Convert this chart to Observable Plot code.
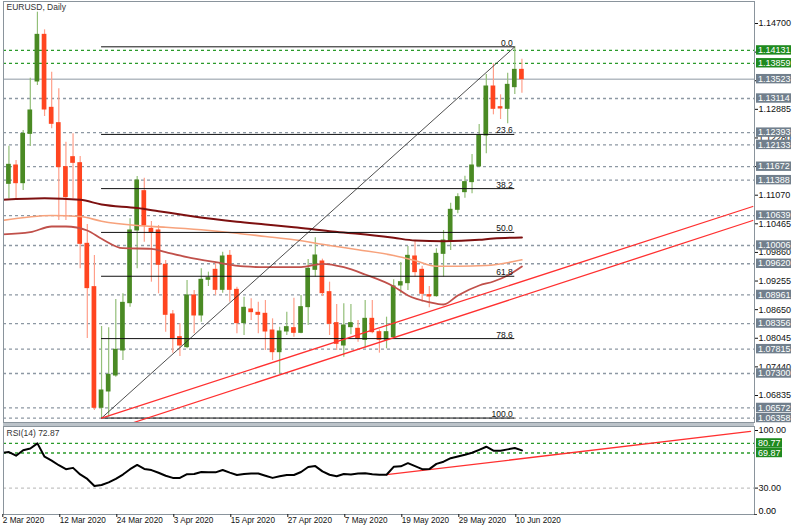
<!DOCTYPE html>
<html><head><meta charset="utf-8">
<script src="https://cdn.jsdelivr.net/npm/d3@7"></script>
<script src="https://cdn.jsdelivr.net/npm/@observablehq/plot@0.6"></script>
<style>
body{margin:0;background:#fff;}
#wrap{position:relative;width:800px;height:532px;overflow:hidden;font-family:"Liberation Sans",Arial,sans-serif;}
#main{position:absolute;left:0;top:0;}
#rsi{position:absolute;left:0;top:424px;}
#sep{position:absolute;left:3px;top:423px;width:751px;height:3px;background:#bcc3c9;}
svg{display:block;}
</style></head>
<body><div id="wrap"><div id="main"></div><div id="sep"></div><div id="rsi"></div></div>
<script>
// ---- data ----
const dates = ["2020-03-02","2020-03-03","2020-03-04","2020-03-05","2020-03-06","2020-03-09","2020-03-10","2020-03-11","2020-03-12","2020-03-13",
"2020-03-16","2020-03-17","2020-03-18","2020-03-19","2020-03-20","2020-03-23","2020-03-24","2020-03-25","2020-03-26","2020-03-27",
"2020-03-30","2020-03-31","2020-04-01","2020-04-02","2020-04-03","2020-04-06","2020-04-07","2020-04-08","2020-04-09","2020-04-10",
"2020-04-13","2020-04-14","2020-04-15","2020-04-16","2020-04-17","2020-04-20","2020-04-21","2020-04-22","2020-04-23","2020-04-24",
"2020-04-27","2020-04-28","2020-04-29","2020-04-30","2020-05-01","2020-05-04","2020-05-05","2020-05-06","2020-05-07","2020-05-08",
"2020-05-11","2020-05-12","2020-05-13","2020-05-14","2020-05-15","2020-05-18","2020-05-19","2020-05-20","2020-05-21","2020-05-22",
"2020-05-25","2020-05-26","2020-05-27","2020-05-28","2020-05-29","2020-06-01","2020-06-02","2020-06-03","2020-06-04","2020-06-05",
"2020-06-08","2020-06-09","2020-06-10","2020-06-11"];
const open = [1.10478,1.11310,1.11698,1.11324,1.12367,1.13474,1.14460,1.12917,1.12593,1.11663,
1.11874,1.11747,1.10042,1.09126,1.06575,1.06920,1.07258,1.07787,1.08787,1.10324,
1.11155,1.10359,1.10324,1.09598,1.08548,1.08069,1.07857,1.08950,1.08527,1.09281,
1.09492,1.09069,1.09788,1.09069,1.08365,1.08654,1.08583,1.08562,1.08209,1.07751,
1.08188,1.08259,1.08160,1.08703,1.09492,1.09668,1.09020,1.08365,1.07892,1.08280,
1.08245,1.08012,1.08456,1.08174,1.08012,1.08069,1.09161,1.09210,1.09774,1.09492,
1.08957,1.08935,1.09830,1.10098,1.10761,1.11134,1.11346,1.11677,1.12332,1.13368,
1.12931,1.12896,1.13354,1.13720];
const high = [1.11381,1.12106,1.11804,1.12438,1.13544,1.14939,1.14566,1.13671,1.13319,1.12191,
1.12367,1.11888,1.10450,1.09795,1.08294,1.08266,1.08865,1.08985,1.10570,1.11465,
1.11430,1.10514,1.10429,1.09690,1.08633,1.08350,1.09267,1.09055,1.09513,1.09443,
1.09654,1.09866,1.09901,1.09126,1.08914,1.08879,1.08808,1.08844,1.08456,1.08280,
1.08597,1.08893,1.08950,1.09711,1.10169,1.09718,1.09231,1.08759,1.08773,1.08759,
1.08421,1.08844,1.08844,1.08224,1.08491,1.09281,1.09647,1.09985,1.10112,1.09570,
1.09140,1.09936,1.10324,1.10901,1.11099,1.11472,1.11930,1.12565,1.13622,1.13847,
1.13192,1.13650,1.14207,1.13946];
const low = [1.10429,1.10993,1.10993,1.11169,1.12100,1.13389,1.12734,1.12473,1.10535,1.10535,
1.10993,1.09513,1.08038,1.06518,1.06358,1.06377,1.07223,1.07575,1.08703,1.09513,
1.10077,1.09231,1.08985,1.08174,1.07730,1.07660,1.07822,1.08139,1.08386,1.09140,
1.08950,1.08999,1.08808,1.08139,1.08104,1.08421,1.08139,1.07787,1.07575,1.07293,
1.08104,1.08069,1.08139,1.08315,1.09337,1.08928,1.08104,1.07787,1.07646,1.08118,
1.07963,1.07836,1.08139,1.07730,1.07822,1.08033,1.08985,1.09055,1.09337,1.08808,
1.08689,1.08914,1.09337,1.09901,1.10676,1.11007,1.11099,1.11663,1.11944,1.12769,
1.12670,1.12579,1.13199,1.13227];
const close = [1.11324,1.11712,1.11324,1.12367,1.12861,1.14460,1.12882,1.12579,1.11663,1.11028,
1.11754,1.10042,1.09105,1.06575,1.06941,1.07272,1.07801,1.08794,1.10324,1.11381,
1.10429,1.10288,1.09598,1.08541,1.08033,1.07892,1.08950,1.08527,1.09281,1.09316,
1.09069,1.09774,1.09069,1.08365,1.08689,1.08597,1.08541,1.08188,1.07751,1.08188,
1.08280,1.08160,1.08703,1.09513,1.09795,1.08999,1.08350,1.07927,1.08315,1.08365,
1.08033,1.08456,1.08174,1.08012,1.08174,1.09140,1.09231,1.09788,1.09443,1.08985,
1.08928,1.09830,1.10112,1.10761,1.11028,1.11346,1.11698,1.12332,1.13368,1.12896,
1.12903,1.13403,1.13720,1.13523];

// moving averages (bar index, price)
const maSlowIdx = [0,6,11,14,19,22,26,33,37,41,46,50,55,58,62,67,69,73];
const maSlowVal = [1.10973,1.11007,1.10973,1.10873,1.10799,1.10732,1.10641,1.10508,1.10451,1.10393,1.10309,1.10254,1.10169,1.10112,1.10098,1.10127,1.10155,1.10176];
const maMidIdx = [0,7,11,14,19,23,28,33,37,41,46,50,55,58,61,64,68,73];
const maMidVal = [1.10535,1.10641,1.10620,1.10520,1.10429,1.10393,1.10338,1.10267,1.10197,1.10127,1.10007,1.09916,1.09795,1.09689,1.09569,1.09569,1.09584,1.09704];
const maFastIdx = [0,4,7,9,12,14,17,21,23,26,30,34,37,42,45,48,51,55,57,60,62,64,67,69,71,73];
const maFastVal = [1.10239,1.10288,1.10408,1.10408,1.10324,1.10148,1.09949,1.09937,1.09865,1.09759,1.09653,1.09563,1.09548,1.09548,1.09620,1.09548,1.09393,1.09140,1.08950,1.08808,1.08759,1.08950,1.09161,1.09245,1.09372,1.09562];

// RSI(14)
const rsi = [69.9,71.0,66.8,73.0,75.0,80.8,65.7,61.2,56.0,51.5,
53.0,45.5,40.4,32.3,33.5,36.5,40.5,45.4,51.5,56.3,
51.8,50.5,47.4,44.0,41.6,41.5,45.8,46.0,48.3,48.0,
47.9,50.6,47.6,44.9,46.0,46.7,46.5,44.0,41.6,43.4,
44.9,44.9,48.3,54.0,55.0,49.0,45.2,43.5,46.0,45.5,
46.5,47.0,45.8,45.2,45.2,54.2,54.7,58.3,55.0,51.5,
51.6,57.5,60.0,64.0,66.0,68.0,70.2,73.5,77.0,72.5,
72.5,74.0,75.5,72.87];
const rsiLevels = [80.77, 69.87];
const rsiTrendIdx = [54, 105.08];
const rsiTrendVal = [45.2, 94.4];
const rsiMinLabel = "0.00";

// Fibonacci retracement
const fibLevels = [0, 23.6, 38.2, 50, 61.8, 78.6, 100];
const fibPrices = [1.14207, 1.12355, 1.11209, 1.10283, 1.09356, 1.08038, 1.06358];
const fibStartIdx = 14, fibEndIdx = 72;

// trend lines (bar index, price)
const trendUpperIdx = [14, 105.4], trendUpperVal = [1.06358, 1.10831];
const trendLowerIdx = [18.5, 105.4], trendLowerVal = [1.06264, 1.10535];

// horizontal levels
const grayLevels = [1.13114,1.12393,1.12133,1.11672,1.11388,1.10639,1.10006,1.09620,1.08961,1.08356,1.07815,1.07300,1.06572,1.06358];
const greenLevels = [1.14131, 1.13859];
const bidPrice = 1.13523;
const priceTicks = [1.14700,1.14095,1.13490,1.12885,1.12280,1.11675,1.11070,1.10465,1.09860,1.09255,1.08650,1.08045,1.07440,1.06835];
const hiddenTicks = [1.14095, 1.13490, 1.11675]; // fully covered by level boxes

const tickIdx = [0,8,16,24,32,40,48,56,64,72];
const tickLabels = ["2 Mar 2020","12 Mar 2020","24 Mar 2020","3 Apr 2020","15 Apr 2020","27 Apr 2020","7 May 2020","19 May 2020","29 May 2020","10 Jun 2020"];

// ---- build ----
const FONT = "Liberation Sans, Arial, sans-serif";
const bars = dates.map((d, i) => ({i, d, o: open[i], h: high[i], l: low[i], c: close[i]}));
const pts = (ix, vs) => ix.map((i, k) => ({i, v: vs[k]}));
const fibRows = fibLevels.map((lv, k) => ({lv, p: fibPrices[k]}));
const GREEN_BODY = "#4a8a24", GREEN_WICK = "#93bf78", RED_BODY = "#ff4520", RED_WICK = "#ff9f8a";

function boxes(vals, fill, fmt, w) {
  return (index, scales, values, dims) => {
    const g = d3.create("svg:g").attr("font-size", 9).attr("font-family", FONT).attr("text-anchor", "start");
    const x0 = dims.width - dims.marginRight + 2;
    for (const v of vals) {
      const y = scales.y(v);
      g.append("rect").attr("x", x0).attr("y", y - 4.7).attr("width", w).attr("height", 9.4).attr("fill", fill);
      g.append("text").attr("x", x0 + 2).attr("y", y).attr("dy", "0.35em").attr("fill", "#fff").attr("text-anchor", "start").text(fmt(v));
    }
    return g.node();
  };
}

const f5 = d3.format(".5f"), f2 = d3.format(".2f");

const main = Plot.plot({
  width: 800, height: 423,
  marginLeft: 3, marginRight: 46, marginTop: 1, marginBottom: 1,
  style: {background: "transparent", fontFamily: FONT, fontSize: "9px", color: "#111", overflow: "visible"},
  x: {type: "linear", domain: [0, 105], range: [1.3, 1.3 + 7.125 * 105], axis: null},
  y: {domain: [1.06835, 1.147], range: [395, 23], axis: null},
  marks: [
    Plot.ruleY(grayLevels, {stroke: "#8d98a3", strokeWidth: 1.3, strokeDasharray: "3,3"}),
    Plot.ruleY(greenLevels, {stroke: "#2b9a2b", strokeWidth: 1.3, strokeDasharray: "3,3"}),
    Plot.ruleY([bidPrice], {stroke: "#8d98a3", strokeWidth: 1}),
    Plot.ruleX(bars, {x: "i", y1: "l", y2: "h", stroke: d => d.c >= d.o ? GREEN_WICK : RED_WICK, strokeWidth: 1.2, clip: true}),
    Plot.rect(bars, {x1: d => d.i - 0.33, x2: d => d.i + 0.33, y1: "o", y2: "c", fill: d => d.c >= d.o ? GREEN_BODY : RED_BODY, insetTop: -0.5, insetBottom: -0.5, clip: true}),
    Plot.line(pts(maMidIdx, maMidVal), {x: "i", y: "v", stroke: "#f7a27c", strokeWidth: 1.6, curve: "monotone-x", clip: true}),
    Plot.line(pts(maFastIdx, maFastVal), {x: "i", y: "v", stroke: "#c0504a", strokeWidth: 1.8, curve: "monotone-x", clip: true}),
    Plot.line(pts(maSlowIdx, maSlowVal), {x: "i", y: "v", stroke: "#7d1010", strokeWidth: 2, curve: "monotone-x", clip: true}),
    Plot.ruleY(fibRows, {y: "p", x1: () => fibStartIdx, x2: () => fibEndIdx, stroke: "#111", strokeWidth: 1}),
    Plot.line([{i: fibStartIdx, v: fibPrices[6]}, {i: fibEndIdx, v: fibPrices[0]}], {x: "i", y: "v", stroke: "#222", strokeWidth: 0.8}),
    Plot.text(fibRows, {x: () => fibEndIdx, y: "p", text: d => d3.format(".1f")(d.lv), textAnchor: "end", lineAnchor: "bottom", dx: -2, dy: -1, fontSize: 8.5, fill: "#111"}),
    Plot.line(pts(trendUpperIdx, trendUpperVal), {x: "i", y: "v", stroke: "#ff3030", strokeWidth: 1.3, clip: true}),
    Plot.line(pts(trendLowerIdx, trendLowerVal), {x: "i", y: "v", stroke: "#ff3030", strokeWidth: 1.3, clip: true}),
    Plot.frame({stroke: "#8a949c"}),
    Plot.axisY({anchor: "right", ticks: priceTicks, tickFormat: d => hiddenTicks.includes(d) ? "" : f5(d), tickSize: 3, tickPadding: 1, fontSize: 9, label: null}),
    boxes(grayLevels.concat([bidPrice]), "#717f8c", f5, 35),
    boxes(greenLevels, "#1f8a1f", f5, 35),
    Plot.text(["EURUSD, Daily"], {text: d => d, frameAnchor: "top-left", dx: 3, dy: 2, lineAnchor: "top", textAnchor: "start", fontSize: 8.5, fill: "#333"})
  ]
});
document.getElementById("main").append(main);

const rsiRows = rsi.map((v, i) => ({i, v}));
const rsiPlot = Plot.plot({
  width: 800, height: 108,
  marginLeft: 3, marginRight: 46, marginTop: 2, marginBottom: 18,
  style: {background: "transparent", fontFamily: FONT, fontSize: "9px", color: "#111", overflow: "visible"},
  x: {type: "linear", domain: [0, 105], range: [1.3, 1.3 + 7.125 * 105]},
  y: {domain: [0, 100], range: [90, 2], axis: null},
  marks: [
    Plot.ruleY([30], {stroke: "#c4c4c4", strokeWidth: 1.3, strokeDasharray: "3,3"}),
    Plot.ruleY(rsiLevels, {stroke: "#2b9a2b", strokeWidth: 1.3, strokeDasharray: "3,3"}),
    Plot.line(pts(rsiTrendIdx, rsiTrendVal), {x: "i", y: "v", stroke: "#ff3030", strokeWidth: 1.3, clip: true}),
    Plot.line(rsiRows, {x: "i", y: "v", stroke: "#000", strokeWidth: 2, clip: true}),
    Plot.frame({stroke: "#8a949c"}),
    Plot.axisY({anchor: "right", ticks: [30], tickFormat: f2, tickSize: 3, tickPadding: 1, fontSize: 9, label: null}),
    Plot.axisY({anchor: "right", ticks: [100], tickFormat: f2, tickSize: 3, tickPadding: 1, dy: 4, fontSize: 9, label: null}),
    Plot.tickY([0], {y: d => d, stroke: "#444", insetLeft: 751, insetRight: -3}),
    boxes(rsiLevels, "#1f8a1f", f2, 26),
    Plot.axisX({anchor: "bottom", ticks: tickIdx, tickFormat: d => tickLabels[tickIdx.indexOf(d)], tickSize: 3, tickPadding: 0, textAnchor: "start", dx: 1, fontSize: 8.2, label: null}),
    Plot.text([rsiMinLabel], {text: d => d, frameAnchor: "bottom-right", lineAnchor: "bottom", textAnchor: "start", dx: 4, dy: -1, fontSize: 9, fill: "#000", stroke: "#fff", strokeWidth: 0}),
    Plot.text(["RSI(14) 72.87"], {text: d => d, frameAnchor: "top-left", dx: 3, dy: 3, lineAnchor: "top", textAnchor: "start", fontSize: 8.5, fill: "#333"})
  ]
});
document.getElementById("rsi").append(rsiPlot);
</script>
</body></html>
